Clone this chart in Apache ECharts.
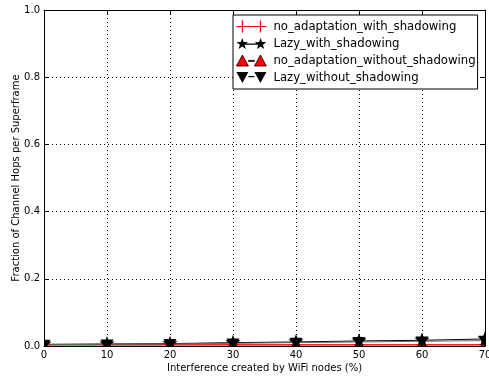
<!DOCTYPE html>
<html>
<head>
<meta charset="utf-8">
<script src="https://cdn.jsdelivr.net/npm/echarts@6/dist/echarts.min.js"></script>
<style>
  html, body { margin: 0; padding: 0; background: #fff; }
  #chart { width: 489px; height: 376px; }
</style>
</head>
<body>
<div id="chart"></div>
<script>
// Interference levels (%) on the x axis
const interference = [0, 10, 20, 30, 40, 50, 60, 70];

// Fraction of channel hops per superframe for each scheme
const noAdaptationWithShadowing = [0.004, 0.004, 0.004, 0.004, 0.004, 0.004, 0.004, 0.004];
const lazyWithShadowing = [0.005, 0.006, 0.007, 0.010, 0.012, 0.015, 0.017, 0.021];
const noAdaptationWithoutShadowing = [0.0, 0.0, 0.0, 0.0, 0.0, 0.0, 0.0, 0.0];
const lazyWithoutShadowing = [0.004, 0.005, 0.006, 0.008, 0.010, 0.012, 0.014, 0.016];

const seriesNames = [
  'no_adaptation_with_shadowing',
  'Lazy_with_shadowing',
  'no_adaptation_without_shadowing',
  'Lazy_without_shadowing'
];

const yTicks = [0.0, 0.2, 0.4, 0.6, 0.8, 1.0];

const FONT = 'DejaVu Sans';

// Marker outlines, built around a centre point
function starPath(cx, cy, r) {
  const pts = [];
  for (let k = 0; k < 10; k++) {
    const rr = k % 2 === 0 ? r : r * 0.4;
    const a = -Math.PI / 2 + k * Math.PI / 5;
    pts.push((cx + rr * Math.cos(a)).toFixed(2) + ',' + (cy + rr * Math.sin(a)).toFixed(2));
  }
  return 'M' + pts.join(' L') + ' Z';
}
function plusPath(cx, cy, r, t) {
  return `M${cx - t},${cy - r} L${cx + t},${cy - r} L${cx + t},${cy - t} L${cx + r},${cy - t} L${cx + r},${cy + t} L${cx + t},${cy + t} L${cx + t},${cy + r} L${cx - t},${cy + r} L${cx - t},${cy + t} L${cx - r},${cy + t} L${cx - r},${cy - t} L${cx - t},${cy - t} Z`;
}
function triUpPath(cx, cy, r) {
  return `M${cx - r},${cy + r * 0.75} L${cx},${cy - r} L${cx + r},${cy + r * 0.75} Z`;
}
function triDownPath(cx, cy, r) {
  return `M${cx - r},${cy - r * 0.75} L${cx},${cy + r} L${cx + r},${cy - r * 0.75} Z`;
}
function rectPath(x0, y0, x1, y1) {
  return `M${x0},${y0} L${x1},${y0} L${x1},${y1} L${x0},${y1} Z`;
}

// Legend glyphs: a short line with a marker at each end
const LEG_PLUS = 'path://' + plusPath(6, 6, 6, 0.6) + ' ' + rectPath(6, 5.5, 24, 6.5) + ' ' + plusPath(24, 6, 6, 0.6);
const LEG_STAR = 'path://' + starPath(6, 6, 6) + ' ' + rectPath(6, 5.4, 24, 6.6) + ' ' + starPath(24, 6, 6);
const LEG_UP = 'path://M0,12 L6,1 L12,12 Z ' + rectPath(12, 6.4, 18, 7.4) + ' M18,12 L24,1 L30,12 Z';
const LEG_DOWN = 'path://M0,1 L6,12 L12,1 Z ' + rectPath(12, 5.1, 18, 6.3) + ' M18,1 L24,12 L30,1 Z';

function pairs(values) {
  return interference.map((x, i) => [x, values[i]]);
}

// Line through the points (markers are drawn separately so they clip at the frame)
function lineSeries(name, values, color, z) {
  return {
    name, type: 'line', data: pairs(values),
    symbol: 'none', clip: true,
    lineStyle: { color, width: 1 },
    itemStyle: { color },
    z
  };
}

// Markers drawn through the axes' scales, clipped to the plotting area
function markerSeries(name, values, shapeFn, size, style, z) {
  return {
    name, type: 'custom', data: pairs(values), clip: true, z,
    renderItem: (params, api) => {
      const p = api.coord([api.value(0), api.value(1)]);
      return {
        type: 'path',
        shape: { pathData: shapeFn(p[0], p[1], size) },
        style
      };
    }
  };
}

const chart = echarts.init(document.getElementById('chart'), null, { renderer: 'canvas' });

const axisLineStyle = { color: '#000', width: 1 };

chart.setOption({
  animation: false,
  backgroundColor: '#fff',
  textStyle: { fontFamily: FONT },
  grid: { left: 44, right: 4, top: 10, bottom: 30, containLabel: false, outerBoundsMode: 'none' },
  legend: {
    z: 20,
    orient: 'vertical',
    left: 233,
    top: 15,
    padding: [5, 2, 5, 3],
    itemGap: 4,
    itemWidth: 30,
    itemHeight: 13,
    borderColor: '#000',
    borderWidth: 1,
    borderRadius: 0,
    backgroundColor: '#fff',
    textStyle: { fontFamily: FONT, fontSize: 11.7, lineHeight: 13, color: '#000', padding: [0, 0, 0, 2] },
    data: [
      { name: seriesNames[0], icon: LEG_PLUS, itemStyle: { color: '#ff0000', borderWidth: 0 } },
      { name: seriesNames[1], icon: LEG_STAR, itemStyle: { color: '#000', borderWidth: 0 } },
      { name: seriesNames[2], icon: LEG_UP, itemStyle: { color: '#ff0000', borderColor: '#000', borderWidth: 0.8 } },
      { name: seriesNames[3], icon: LEG_DOWN, itemStyle: { color: '#000', borderWidth: 0 } }
    ]
  },
  xAxis: [{
    type: 'value',
    min: 0, max: 70, interval: 10,
    name: 'Interference created by WiFi nodes (%)',
    nameLocation: 'middle',
    nameGap: 17,
    nameMoveOverlap: false,
    nameTextStyle: { fontFamily: FONT, fontSize: 10, color: '#000' },
    axisLine: { show: true, onZero: false, lineStyle: axisLineStyle },
    axisTick: { show: true, inside: true, length: 4, lineStyle: axisLineStyle },
    axisLabel: { fontFamily: FONT, fontSize: 10, color: '#000', margin: 4 },
    splitLine: { show: true, lineStyle: { color: '#000', type: [1, 3], width: 1 } },
    z: 10
  }, {
    type: 'value',
    position: 'top',
    min: 0, max: 70, interval: 10,
    axisLine: { show: true, onZero: false, lineStyle: axisLineStyle },
    axisTick: { show: true, inside: true, length: 4, lineStyle: axisLineStyle },
    axisLabel: { show: false },
    splitLine: { show: false },
    z: 10
  }],
  yAxis: [{
    type: 'value',
    min: 0, max: 1.0, interval: 0.2,
    name: 'Fraction of Channel Hops per Superframe',
    nameLocation: 'middle',
    nameGap: 23,
    nameMoveOverlap: false,
    nameTextStyle: { fontFamily: FONT, fontSize: 10, color: '#000' },
    axisLine: { show: true, onZero: false, lineStyle: axisLineStyle },
    axisTick: { show: true, inside: true, length: 4, lineStyle: axisLineStyle },
    axisLabel: {
      fontFamily: FONT, fontSize: 10, color: '#000', margin: 4,
      formatter: v => {
        const t = yTicks.find(k => Math.abs(k - v) < 1e-9);
        return t === undefined ? '' : t.toFixed(1);
      }
    },
    splitLine: { show: true, lineStyle: { color: '#000', type: [1, 3], width: 1 } },
    z: 10
  }, {
    type: 'value',
    position: 'right',
    min: 0, max: 1.0, interval: 0.2,
    axisLine: { show: true, onZero: false, lineStyle: axisLineStyle },
    axisTick: { show: true, inside: true, length: 4, lineStyle: axisLineStyle },
    axisLabel: { show: false },
    splitLine: { show: false },
    z: 10
  }],
  series: [
    lineSeries(seriesNames[0], noAdaptationWithShadowing, '#ff0000', 2),
    lineSeries(seriesNames[1], lazyWithShadowing, '#000', 2),
    lineSeries(seriesNames[2], noAdaptationWithoutShadowing, '#ff0000', 2),
    lineSeries(seriesNames[3], lazyWithoutShadowing, '#666', 2),
    markerSeries(seriesNames[0], noAdaptationWithShadowing,
      (x, y, r) => plusPath(x, y, r, 0.7), 5.5, { fill: '#ff0000' }, 3),
    markerSeries(seriesNames[1], lazyWithShadowing,
      starPath, 8, { fill: '#000' }, 3),
    markerSeries(seriesNames[2], noAdaptationWithoutShadowing,
      triUpPath, 6, { fill: '#ff0000', stroke: '#000', lineWidth: 1 }, 3),
    markerSeries(seriesNames[3], lazyWithoutShadowing,
      triDownPath, 6.5, { fill: '#000' }, 3)
  ]
});
</script>
</body>
</html>
